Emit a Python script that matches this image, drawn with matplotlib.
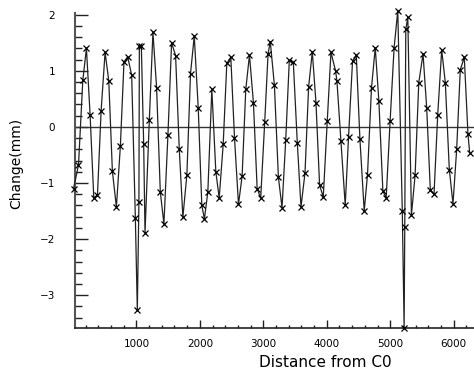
from matplotlib import pyplot as plt
from matplotlib.ticker import MultipleLocator

# distance along the line (same units as the axis) and measured change in mm
distance = [10, 88, 156, 213, 271, 329, 387, 444, 507, 565, 622, 685, 748, 805, 863, 926,
            984, 1015, 1040, 1047, 1078, 1115, 1136, 1204, 1261, 1319, 1377, 1434, 1497, 1555,
            1618, 1676, 1733, 1796, 1853, 1912, 1975, 2031, 2072, 2126, 2189, 2252, 2305, 2368,
            2425, 2488, 2546, 2609, 2666, 2724, 2782, 2845, 2903, 2959, 3022, 3075, 3110, 3175,
            3238, 3295, 3353, 3410, 3473, 3536, 3594, 3657, 3714, 3772, 3830, 3887, 3945, 4008,
            4066, 4140, 4160, 4223, 4291, 4343, 4406, 4465, 4522, 4590, 4642, 4705, 4764, 4821,
            4884, 4936, 4998, 5061, 5119, 5190, 5219, 5229, 5245, 5277, 5334, 5392, 5450, 5517,
            5575, 5632, 5690, 5748, 5811, 5868, 5931, 5989, 6047, 6104, 6167, 6225, 6252]
change = [-1.10, -0.68, 0.83, 1.40, 0.21, -1.27, -1.21, 0.28, 1.33, 0.82, -0.79, -1.43, -0.34,
          1.16, 1.25, 0.92, -1.63, -3.27, -1.34, 1.44, 1.44, -0.31, -1.89, 0.12, 1.69, 0.69,
          -1.16, -1.73, -0.15, 1.50, 1.27, -0.40, -1.61, -0.85, 0.95, 1.62, 0.33, -1.40, -1.64,
          -1.16, 0.67, -0.80, -1.27, -0.31, 1.13, 1.24, -0.19, -1.38, -0.88, 0.67, 1.28, 0.42,
          -1.10, -1.27, 0.08, 1.30, 1.52, 0.74, -0.90, -1.44, -0.24, 1.19, 1.15, -0.29, -1.43,
          -0.82, 0.71, 1.34, 0.43, -1.04, -1.25, 0.11, 1.33, 0.99, 0.82, -0.25, -1.40, -0.18,
          1.17, 1.28, -0.21, -1.50, -0.85, 0.70, 1.41, 0.46, -1.14, -1.27, 0.10, 1.41, 2.07,
          -1.50, -3.58, -1.79, 1.74, 1.95, -1.57, -0.86, 0.79, 1.30, 0.33, -1.13, -1.20, 0.21,
          1.37, 0.79, -0.76, -1.37, -0.40, 1.02, 1.24, -0.13, -0.46]

fig = plt.figure(figsize=(4.74, 3.73), dpi=100)
# axes run off the right edge of the picture, as in the original
ax = fig.add_axes([74.5 / 474, 45.3 / 373, 399.5 / 474, 314.7 / 373])

ax.plot(distance, change, '-', color='#222222', lw=0.9, clip_on=False, zorder=3)
ax.plot(distance, change, 'x', color='black', ms=4, mew=0.9, clip_on=False, zorder=4)
ax.axhline(0, color='#333333', lw=1.0)

ax.set_xlim(25, 6320)
ax.set_ylim(-3.58, 2.03)

ax.spines['top'].set_visible(False)
ax.spines['right'].set_visible(False)
ax.spines['left'].set_color('#555555')
ax.spines['left'].set_linewidth(1.5)
ax.spines['bottom'].set_color('#222222')
ax.spines['bottom'].set_linewidth(1.2)

ax.xaxis.set_major_locator(MultipleLocator(1000))
ax.xaxis.set_minor_locator(MultipleLocator(200))
ax.yaxis.set_major_locator(MultipleLocator(1))
ax.yaxis.set_minor_locator(MultipleLocator(0.2))
ax.set_xticks([1000, 2000, 3000, 4000, 5000, 6000])

ax.tick_params(axis='both', which='both', direction='in', color='#222222', width=1.0)
ax.tick_params(axis='y', which='major', length=9.4, pad=14, labelsize=7.5)
ax.tick_params(axis='y', which='minor', length=5)
ax.tick_params(axis='x', which='major', length=5.5, pad=8, labelsize=7.5)
ax.tick_params(axis='x', which='minor', length=2.4)

ax.set_xlabel('Distance from C0', fontsize=11, va='center')
ax.xaxis.set_label_coords(0.627, -0.112)
ax.set_ylabel('Change(mm)', fontsize=10, va='center')
ax.yaxis.set_label_coords(-0.147, 0.523)

plt.savefig('out.png', dpi=100)
